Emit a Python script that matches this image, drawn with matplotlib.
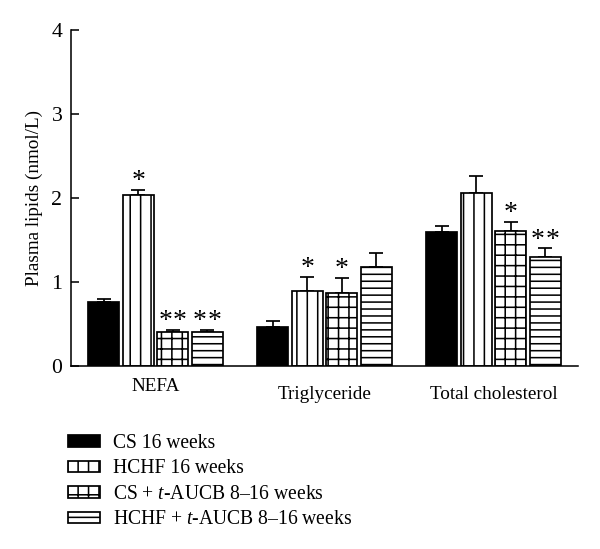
import numpy as np
import matplotlib
matplotlib.use('Agg')
import matplotlib.pyplot as plt
from matplotlib.patches import Patch

plt.rcParams['font.family'] = ['Liberation Serif', 'DejaVu Serif']
plt.rcParams['mathtext.fontset'] = 'custom'
plt.rcParams['mathtext.rm'] = 'Liberation Serif'
plt.rcParams['mathtext.it'] = 'Liberation Serif:italic'
plt.rcParams['hatch.linewidth'] = 0.9

# data
categories = ['NEFA', 'Triglyceride', 'Total cholesterol']
groups = ['CS 16 weeks', 'HCHF 16 weeks',
          'CS + $t$-AUCB 8\u201316 weeks', 'HCHF + $t$-AUCB 8\u201316 weeks']
means = {
    'CS 16 weeks': [0.76, 0.47, 1.60],
    'HCHF 16 weeks': [2.04, 0.89, 2.06],
    'CS + t-AUCB': [0.40, 0.87, 1.61],
    'HCHF + t-AUCB': [0.40, 1.18, 1.30],
}
errs = {
    'CS 16 weeks': [0.04, 0.06, 0.07],
    'HCHF 16 weeks': [0.06, 0.17, 0.20],
    'CS + t-AUCB': [0.03, 0.18, 0.11],
    'HCHF + t-AUCB': [0.03, 0.17, 0.10],
}
stars = {
    'CS 16 weeks': [0, 0, 0],
    'HCHF 16 weeks': [1, 1, 0],
    'CS + t-AUCB': [2, 1, 1],
    'HCHF + t-AUCB': [2, 0, 2],
}

# styles
faces = ['black', 'white', 'white', 'white']
hatches = [None, '||', '++', '---']

fig = plt.figure(figsize=(4.8, 4.392), dpi=125)
ax = fig.add_axes([71/600, 1 - 366/549, 507/600, 336/549])

x = np.arange(len(categories))
pitch = 0.204
width = 0.183
for i, key in enumerate(means):
    xs = x + (i - 1.5) * pitch
    m = np.array(means[key])
    e = np.array(errs[key])
    ax.bar(xs, m, width, color=faces[i], edgecolor='black', hatch=hatches[i],
           linewidth=1.0, zorder=2)
    ax.errorbar(xs, m, yerr=[np.zeros_like(e), e], fmt='none', ecolor='black',
                elinewidth=1.0, capsize=4.3, capthick=1.0, zorder=1)
    for xi, top, n in zip(xs, m + e, stars[key]):
        offs = {1: [0], 2: [-4.2, 4.2]}.get(n, [])
        for dx in offs:
            ax.annotate('*', (xi, top), xytext=(dx, -2.5), textcoords='offset points',
                        ha='center', va='bottom', fontsize=16)

ax.set_xlim(-0.5, 2.5)
ax.set_ylim(0, 4)
ax.set_yticks([0, 1, 2, 3, 4])
ax.tick_params(axis='y', direction='in', length=4.6, width=0.9, labelsize=12.5, pad=5)
ax.set_xticks([])
for side in ['top', 'right']:
    ax.spines[side].set_visible(False)
for side in ['left', 'bottom']:
    ax.spines[side].set_linewidth(0.9)
ax.set_ylabel('Plasma lipids (nmol/L)', fontsize=11, labelpad=5)

# category labels (NEFA sits a bit higher in the original)
label_drop = [0.035, 0.06, 0.06]
for xi, cat, d in zip(x, categories, label_drop):
    ax.text(xi, -d, cat, transform=ax.get_xaxis_transform(), ha='center',
            va='top', fontsize=11)

handles = [Patch(facecolor=faces[i], edgecolor='black', hatch=hatches[i],
                 linewidth=1.0) for i in range(4)]
fig.legend(handles, groups, loc='upper left', bbox_to_anchor=(68/600, 1 - 434/549),
           frameon=False, fontsize=11.3, handlelength=1.65, handleheight=0.55,
           handletextpad=0.65, labelspacing=0.33, borderpad=0, borderaxespad=0)

fig.savefig('out.png', dpi=125)
